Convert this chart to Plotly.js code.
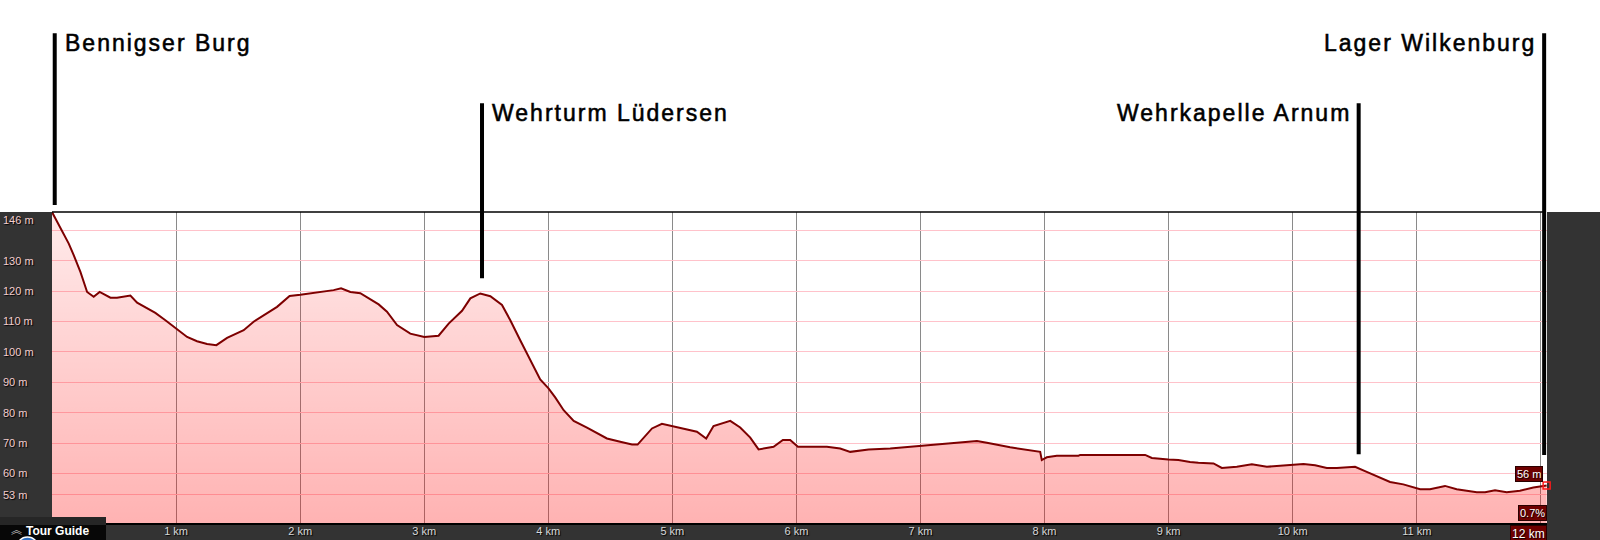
<!DOCTYPE html>
<html>
<head>
<meta charset="utf-8">
<script src="https://cdn.plot.ly/plotly-3.0.1.min.js"></script>
<style>
  html, body { margin: 0; padding: 0; background: #ffffff; }
  #chart { width: 1600px; height: 540px; }
</style>
</head>
<body>
<div id="chart"></div>
<script>
// ---------------- DATA ----------------
const km = [0, 0.094, 0.135, 0.175, 0.229, 0.283, 0.336, 0.384, 0.471, 0.524, 0.632, 0.686, 0.766, 0.833, 0.914, 0.994,
  1.089, 1.169, 1.25, 1.325, 1.411, 1.545, 1.625, 1.814, 1.915, 2.002, 2.163, 2.27, 2.33, 2.405, 2.485, 2.566, 2.633,
  2.7, 2.781, 2.888, 3.001, 3.116, 3.197, 3.305, 3.372, 3.452, 3.533, 3.627, 3.694, 3.774, 3.855, 3.935, 4.002, 4.056,
  4.124, 4.205, 4.312, 4.393, 4.473, 4.58, 4.675, 4.72, 4.836, 4.916, 5.01, 5.198, 5.273, 5.332, 5.467, 5.547, 5.628,
  5.695, 5.816, 5.891, 5.95, 6.012, 6.246, 6.353, 6.434, 6.582, 6.756, 6.998, 7.24, 7.347, 7.455, 7.535, 7.723, 7.965,
  7.978, 8.018, 8.099, 8.273, 8.287, 8.811, 8.865, 8.998, 9.079, 9.173, 9.24, 9.362, 9.429, 9.55, 9.671, 9.792, 9.953,
  10.087, 10.181, 10.275, 10.356, 10.503, 10.597, 10.704, 10.785, 10.892, 11.027, 11.107, 11.228, 11.322, 11.484,
  11.551, 11.631, 11.725, 11.832, 11.94, 12.007, 12.047];
const elevation = [146, 138.4, 135.6, 131.8, 126.3, 119.7, 118.1, 119.7, 117.8, 117.8, 118.5, 116.2, 114.3, 112.8, 110.4, 107.9,
  104.9, 103.5, 102.6, 102.2, 104.6, 107.1, 109.9, 114.8, 118.4, 118.8, 119.6, 120.3, 120.9, 119.7, 119.3, 117.2, 115.6,
  113.2, 108.8, 106.0, 104.9, 105.3, 109.3, 113.5, 117.6, 119.2, 118.3, 115.4, 110.4, 103.8, 97.3, 90.9, 88.0, 85.0,
  80.8, 77.3, 75.1, 73.2, 71.5, 70.4, 69.5, 69.5, 74.8, 76.3, 75.5, 73.7, 71.5, 75.6, 77.3, 75.1, 71.8,
  67.9, 68.8, 71.0, 71.0, 68.8, 68.8, 68.2, 67.1, 67.9, 68.2, 69.1, 70.0, 70.5, 70.7, 70.1, 68.6, 67.1,
  64.4, 65.3, 65.8, 65.8, 66.1, 66.1, 65.1, 64.6, 64.4, 63.8, 63.5, 63.3, 61.8, 62.2, 63.0, 62.2, 62.7,
  63.1, 62.7, 61.8, 61.8, 62.2, 60.5, 58.7, 57.2, 56.4, 54.8, 54.8, 55.9, 54.8, 53.8,
  53.8, 54.5, 53.8, 54.3, 55.4, 55.9, 56.0];

const xTickKm = [1, 2, 3, 4, 5, 6, 7, 8, 9, 10, 11, 12];
const xTickLabels = ['1 km', '2 km', '3 km', '4 km', '5 km', '6 km', '7 km', '8 km', '9 km', '10 km', '11 km', ''];
const yGridVals = [53, 60, 70, 80, 90, 100, 110, 120, 130, 140];
const yLabelVals = [146, 130, 120, 110, 100, 90, 80, 70, 60, 53];
const yLabelText = ['146 m', '130 m', '120 m', '110 m', '100 m', '90 m', '80 m', '70 m', '60 m', '53 m'];

const poiNames = ['Bennigser Burg', 'Wehrturm Lüdersen', 'Wehrkapelle Arnum', 'Lager Wilkenburg'];
const poiKm = [0.022, 3.466, 10.532, 12.027];

const currentElevText = '56 m';
const gradeText = '0.7%';
const currentKmText = '12 km';
const tourGuideText = 'Tour Guide';

// ---------------- LAYOUT HELPERS ----------------
const W = 1600, H = 540;
const M = {l: 52, r: 53, t: 212, b: 17};
const PW = W - M.l - M.r, PH = H - M.t - M.b;
const pxX = p => (p - M.l) / PW;          // page px -> paper x
const pxY = p => (H - M.b - p) / PH;      // page px -> paper y

const FONT = 'Liberation Sans, Arial, Helvetica, sans-serif';
const lastI = km.length - 1;

// POI styling (layout only)
const poiStyle = [
  {side: 'left',  top: 33.3,  bottom: 205,   textMid: 43.4},
  {side: 'left',  top: 103.3, bottom: 278.3, textMid: 113},
  {side: 'right', top: 103.3, bottom: 454.3, textMid: 113},
  {side: 'right', top: 33.3,  bottom: 455,   textMid: 43.4}
];

const traces = [
  {
    x: km, y: elevation, type: 'scatter', mode: 'lines',
    line: {color: '#7d0000', width: 2},
    fill: 'tozeroy',
    fillgradient: {type: 'vertical', start: 43.7, stop: 146,
      colorscale: [[0, 'rgba(255,0,0,0.30)'], [1, 'rgba(255,0,0,0.08)']]},
    hoverinfo: 'skip'
  },
  {
    x: [km[lastI]], y: [elevation[lastI]], type: 'scatter', mode: 'markers',
    marker: {symbol: 'square-open', size: 7, color: '#ff1a1a', line: {width: 1.5, color: '#ff1a1a'}},
    cliponaxis: false, hoverinfo: 'skip'
  }
];

const shapes = [
  // white area above the plot
  {type: 'rect', xref: 'paper', yref: 'paper', x0: -0.1, x1: 1.1, y0: 1, y1: 2,
   fillcolor: '#ffffff', line: {width: 0}, layer: 'below'},
  // top border
  {type: 'line', xref: 'paper', yref: 'paper', x0: 0, x1: pxX(1543), y0: 1, y1: 1,
   line: {color: '#000000', width: 1.5}, layer: 'above'},
  // Tour guide box
  {type: 'rect', xref: 'paper', yref: 'paper', x0: pxX(0), x1: pxX(106), y0: pxY(525), y1: pxY(517),
   fillcolor: '#262626', line: {width: 0}, layer: 'above'},
  {type: 'rect', xref: 'paper', yref: 'paper', x0: pxX(0), x1: pxX(106), y0: pxY(541), y1: pxY(525),
   fillcolor: '#070707', line: {width: 0}, layer: 'above'},
  {type: 'circle', xref: 'paper', yref: 'paper', x0: pxX(16.5), x1: pxX(38.5), y0: pxY(559), y1: pxY(537),
   fillcolor: '#2f6fc0', line: {color: '#ffffff', width: 1.5}, layer: 'above'}
];

poiKm.forEach((k, i) => {
  shapes.push({type: 'line', xref: 'x', yref: 'paper', x0: k, x1: k,
    y0: pxY(poiStyle[i].bottom), y1: pxY(poiStyle[i].top),
    line: {color: '#000000', width: 4}, layer: 'above'});
});

const annotations = [];
const tickFont = {family: FONT, size: 11, color: '#f3cdcd', shadow: '1px 1px 1px #000'};

yLabelVals.forEach((v, i) => {
  annotations.push({xref: 'paper', x: 0, xanchor: 'left', xshift: -51,
    yref: 'y', y: v, yanchor: v === 146 ? 'top' : 'middle',
    text: yLabelText[i], showarrow: false, font: tickFont});
});

poiNames.forEach((name, i) => {
  const left = poiStyle[i].side === 'left';
  annotations.push({xref: 'x', x: poiKm[i], xanchor: left ? 'left' : 'right', xshift: left ? 8 : -6,
    yref: 'paper', y: pxY(poiStyle[i].textMid), yanchor: 'middle',
    text: '<span style="letter-spacing:2px;stroke:#000;stroke-width:0.55px">' + name + '</span>', showarrow: false,
    font: {family: FONT, size: 23, color: '#000000'}});
});

const boxFont = {family: FONT, size: 11, color: '#ffffff', shadow: '1px 1px 1px #000'};
annotations.push({xref: 'x', x: km[lastI], xanchor: 'right', xshift: -4,
  yref: 'y', y: elevation[lastI], yanchor: 'bottom', yshift: 4,
  text: currentElevText, showarrow: false, font: boxFont,
  bgcolor: '#6e0000', bordercolor: '#2a0000', borderwidth: 1, borderpad: 1});
annotations.push({xref: 'paper', x: 1, xanchor: 'right', yref: 'paper', y: 0, yanchor: 'bottom', yshift: 2,
  text: gradeText, showarrow: false, font: boxFont,
  bgcolor: '#6e0000', bordercolor: '#2a0000', borderwidth: 1, borderpad: 1});
annotations.push({xref: 'paper', x: 1, xanchor: 'right', yref: 'paper', y: 0, yanchor: 'top', yshift: -1.5,
  text: currentKmText, showarrow: false, font: {family: FONT, size: 12, color: '#ffffff', shadow: '1px 1px 1px #000'},
  bgcolor: '#6e0000', bordercolor: '#2a0000', borderwidth: 1, borderpad: 1});

annotations.push({xref: 'paper', x: 0, xanchor: 'left', xshift: -28, yref: 'paper', y: 0, yanchor: 'middle', yshift: -7.5,
  text: tourGuideText, showarrow: false, font: {family: FONT, size: 12, color: '#ffffff', weight: 'bold'}});
annotations.push({xref: 'paper', x: 0, xanchor: 'center', xshift: -35.7, yref: 'paper', y: 0, yanchor: 'middle', yshift: -6,
  text: '︽', showarrow: false, font: {family: 'Noto Sans CJK SC, DejaVu Sans', size: 11, color: '#bbbbbb'}});

const layout = {
  width: W, height: H,
  margin: {l: M.l, r: M.r, t: M.t, b: M.b, pad: 0},
  paper_bgcolor: '#333333',
  plot_bgcolor: '#ffffff',
  showlegend: false,
  xaxis: {
    range: [0, 12.05], tickmode: 'array', tickvals: xTickKm, ticktext: xTickLabels,
    showgrid: true, gridcolor: '#8a8a8a', gridwidth: 1, zeroline: false,
    showline: true, linecolor: '#000000', linewidth: 2, ticks: '',
    ticklabelstandoff: -3,
    tickfont: {family: FONT, size: 11, color: '#d8d8d8', shadow: '1px 1px 1px #000'},
    fixedrange: true
  },
  yaxis: {
    range: [43.7, 146], tickmode: 'array', tickvals: yGridVals, showticklabels: false,
    showgrid: true, gridcolor: '#ffc2ca', gridwidth: 1, zeroline: false, showline: false, ticks: '',
    fixedrange: true
  },
  shapes: shapes,
  annotations: annotations
};

Plotly.newPlot('chart', traces, layout, {displayModeBar: false, staticPlot: true});
</script>
</body>
</html>
